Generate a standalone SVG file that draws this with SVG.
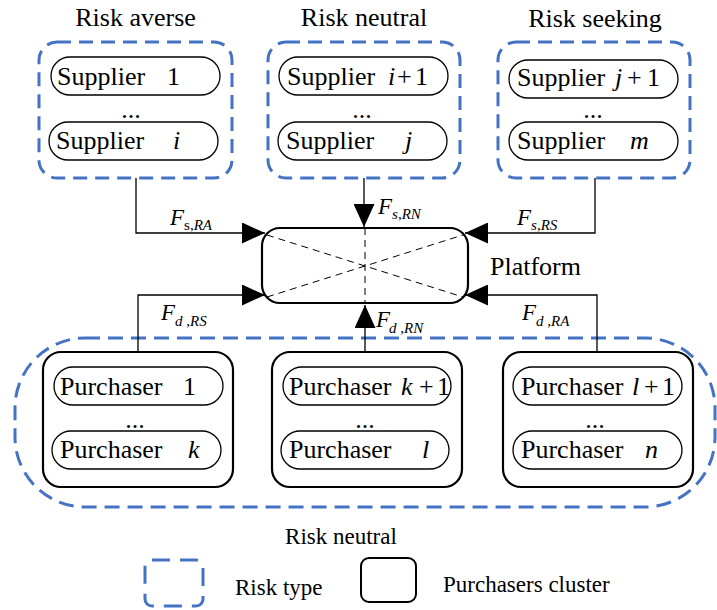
<svg xmlns="http://www.w3.org/2000/svg" width="717" height="610" viewBox="0 0 717 610">
<defs>
<style>
text{font-family:"Liberation Serif","Times New Roman",serif;fill:#000}
.t{font-size:26px}
.lg{font-size:23px}
.it{font-style:italic}
.risk{fill:none;stroke:#4472C4;stroke-width:3;stroke-dasharray:14 8}
.pill{fill:#fff;stroke:#000;stroke-width:1.3}
.clu{fill:#fff;stroke:#000;stroke-width:2.2}
.con{fill:none;stroke:#000;stroke-width:1.3;marker-end:url(#ah)}
.dash{fill:none;stroke:#000;stroke-width:1;stroke-dasharray:7 5}
.F{font-size:23px;font-style:italic}
.sub{font-size:15px;font-style:italic}
</style>
<marker id="ah" markerUnits="userSpaceOnUse" markerWidth="23" markerHeight="21" viewBox="0 0 23 21" refX="23" refY="10.5" orient="auto">
<path d="M0,0 L23,10.5 L0,21 Z" fill="#000"/>
</marker>
</defs>
<rect width="717" height="610" fill="#fff"/>

<g id="risk-averse">
<text class="t" x="135.5" y="26" text-anchor="middle">Risk averse</text>
<rect class="risk" x="39" y="42" width="193" height="136" rx="18"/>
<rect class="pill" x="51" y="57" width="169" height="38" rx="19"/>
<text class="t" x="57" y="85">Supplier<tspan x="167">1</tspan></text>
<text class="t" x="131" y="118" text-anchor="middle">...</text>
<rect class="pill" x="49" y="122" width="169" height="38" rx="19"/>
<text class="t" x="56" y="149">Supplier<tspan class="it" x="173">i</tspan></text>
</g>

<g id="risk-neutral-suppliers">
<text class="t" x="364" y="26" text-anchor="middle">Risk neutral</text>
<rect class="risk" x="268" y="42" width="192" height="136" rx="18"/>
<rect class="pill" x="279" y="57" width="169" height="38" rx="19"/>
<text class="t" x="287" y="85">Supplier<tspan class="it" x="388">i</tspan><tspan x="397">+</tspan><tspan x="415">1</tspan></text>
<text class="t" x="362" y="118" text-anchor="middle">...</text>
<rect class="pill" x="278" y="122" width="169" height="38" rx="19"/>
<text class="t" x="286" y="149">Supplier<tspan class="it" x="405">j</tspan></text>
</g>

<g id="risk-seeking">
<text class="t" x="595" y="27" text-anchor="middle">Risk seeking</text>
<rect class="risk" x="498" y="42" width="192" height="136" rx="18"/>
<rect class="pill" x="509" y="60" width="169" height="38" rx="19"/>
<text class="t" x="517" y="86">Supplier<tspan class="it" x="615">j</tspan><tspan x="627">+</tspan><tspan x="647">1</tspan></text>
<text class="t" x="593" y="118" text-anchor="middle">...</text>
<rect class="pill" x="509" y="122" width="169" height="38" rx="19"/>
<text class="t" x="517" y="149">Supplier<tspan class="it" x="630">m</tspan></text>
</g>

<g id="platform">
<rect class="clu" x="262" y="228" width="206" height="75" rx="18"/>
<line class="dash" x1="267" y1="235" x2="463" y2="297"/>
<line class="dash" x1="267" y1="297" x2="463" y2="235"/>
<line class="dash" x1="365" y1="228" x2="365" y2="303"/>
<text class="t" x="490" y="275">Platform</text>
</g>

<g id="purchasers">
<rect class="risk" x="15" y="338" width="700" height="169" rx="70" style="stroke-dasharray:15 8"/>
<text class="lg" x="341" y="544" text-anchor="middle">Risk neutral</text>
</g>

<g id="cluster-1">
<rect class="clu" x="43" y="352" width="190" height="135" rx="18"/>
<rect class="pill" x="54" y="367" width="169" height="38" rx="19"/>
<text class="t" x="60" y="395">Purchaser<tspan x="183">1</tspan></text>
<text class="t" x="135" y="428" text-anchor="middle">...</text>
<rect class="pill" x="52" y="431" width="169" height="38" rx="19"/>
<text class="t" x="60" y="458">Purchaser<tspan class="it" x="188">k</tspan></text>
</g>

<g id="cluster-2">
<rect class="clu" x="272" y="352" width="190" height="135" rx="18"/>
<rect class="pill" x="283" y="367" width="168" height="38" rx="19"/>
<text class="t" x="289" y="395">Purchaser<tspan class="it" x="401">k</tspan><tspan x="419">+</tspan><tspan x="437">1</tspan></text>
<text class="t" x="365" y="428" text-anchor="middle">...</text>
<rect class="pill" x="281" y="431" width="168" height="38" rx="19"/>
<text class="t" x="289" y="458">Purchaser<tspan class="it" x="422">l</tspan></text>
</g>

<g id="cluster-3">
<rect class="clu" x="503" y="352" width="190" height="135" rx="18"/>
<rect class="pill" x="513" y="367" width="169" height="38" rx="19"/>
<text class="t" x="521" y="395">Purchaser<tspan class="it" x="632">l</tspan><tspan x="644">+</tspan><tspan x="662">1</tspan></text>
<text class="t" x="595" y="428" text-anchor="middle">...</text>
<rect class="pill" x="513" y="431" width="169" height="38" rx="19"/>
<text class="t" x="521" y="458">Purchaser<tspan class="it" x="645">n</tspan></text>
</g>

<g id="connectors">
<polyline class="con" points="136,178 136,233 265,233"/>
<polyline class="con" points="364,178 364,227"/>
<polyline class="con" points="595,178 595,233 465,233"/>
<polyline class="con" points="138,352 138,295 265,295"/>
<polyline class="con" points="365,352 365,305"/>
<polyline class="con" points="597,352 597,295 465,295"/>
<text class="F" x="170" y="225">F<tspan class="sub" style="font-style:normal" dx="0" dy="5">s,</tspan><tspan class="sub">RA</tspan></text>
<text class="F" x="378" y="214">F<tspan class="sub" dx="0" dy="5">s,RN</tspan></text>
<text class="F" x="517" y="225">F<tspan class="sub" dx="0" dy="5">s,RS</tspan></text>
<text class="F" x="161" y="320">F<tspan class="sub" dx="0" dy="6">d ,RS</tspan></text>
<text class="F" x="376" y="327">F<tspan class="sub" dx="-1" dy="6">d ,RN</tspan></text>
<text class="F" x="522" y="320">F<tspan class="sub" dx="0" dy="6">d ,RA</tspan></text>
</g>

<g id="legend">
<rect x="145" y="560" width="58" height="46" rx="7" fill="none" stroke="#4472C4" stroke-width="3" stroke-dasharray="18 10"/>
<text class="lg" x="235" y="595">Risk type</text>
<rect x="361" y="558" width="55" height="44" rx="8" fill="none" stroke="#000" stroke-width="2"/>
<text class="lg" x="443" y="592">Purchasers cluster</text>
</g>
</svg>
